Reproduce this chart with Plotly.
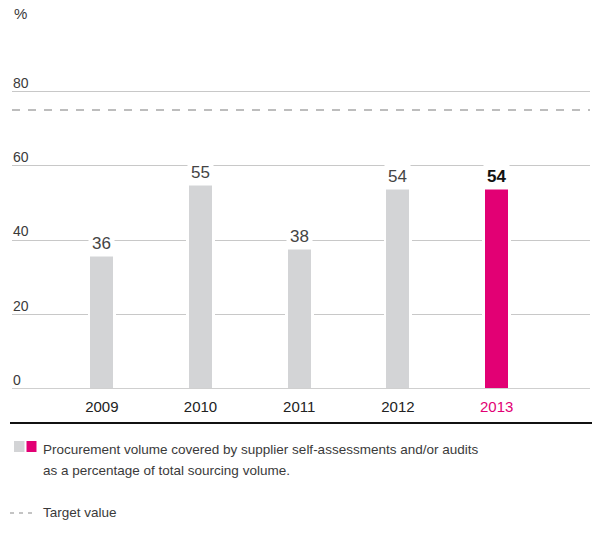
import plotly.graph_objects as go

# Share of procurement volume covered by supplier self-assessments / audits
years = ["2009", "2010", "2011", "2012", "2013"]
coverage = [36, 55, 38, 54, 54]
target_value = 75
y_ticks = [0, 20, 40, 60, 80]

legend_lines = [
    "Procurement volume covered by supplier self-assessments and/or audits",
    "as a percentage of total sourcing volume.",
]

GREY = "#d3d4d6"
MAGENTA = "#e20074"
TEXT = "#3a3a3a"
FONT = "Liberation Sans, Arial, sans-serif"

# page geometry (pixels) used to place decorations outside the plot area
W, H = 595, 547
ML, MR, MT, MB = 12, 5, 20, 158
PLOT_W = W - ML - MR
PLOT_H = H - MT - MB


def px_x(x):
    return (x - ML) / PLOT_W


def px_y(y):
    return (H - MB - y) / PLOT_H


bar_colors = [GREY] * (len(years) - 1) + [MAGENTA]
x_idx = list(range(len(years)))

fig = go.Figure()

# wider white bars knock the gridlines out around each column
fig.add_trace(go.Bar(
    x=x_idx, y=coverage, width=0.29,
    marker=dict(color="white", line=dict(width=0)),
    hoverinfo="skip", showlegend=False,
))
fig.add_trace(go.Bar(
    x=x_idx, y=coverage, width=0.233,
    marker=dict(color=bar_colors, line=dict(width=0)),
    showlegend=False,
))

annotations = []

# value labels above the bars
for i, v in enumerate(coverage):
    last = i == len(coverage) - 1
    annotations.append(dict(
        x=i, y=v, xref="x", yref="y", yanchor="bottom", yshift=-2,
        text=f"<b>{v}</b>" if last else str(v), showarrow=False,
        bgcolor="white", borderpad=3,
        font=dict(family=FONT, size=17, color="#111" if last else "#444"),
    ))

# y tick labels sit on top of their gridlines at the left edge
for t in y_ticks:
    annotations.append(dict(
        x=0, y=t, xref="paper", yref="y", xanchor="left", yanchor="bottom",
        text=str(t), showarrow=False, borderpad=0,
        font=dict(family=FONT, size=14, color=TEXT),
    ))

annotations.append(dict(
    x=0, y=px_y(13), xref="paper", yref="paper", xanchor="left", yanchor="middle",
    text="%", showarrow=False, font=dict(family=FONT, size=15, color=TEXT),
))

# legend block under the chart
for k, line in enumerate(legend_lines):
    annotations.append(dict(
        x=px_x(41), y=px_y(449 + 21 * k), xref="paper", yref="paper",
        xanchor="left", yanchor="middle", showarrow=False, text=line,
        font=dict(family=FONT, size=13.5, color=TEXT),
    ))
annotations.append(dict(
    x=px_x(41), y=px_y(512), xref="paper", yref="paper", xanchor="left", yanchor="middle",
    text="Target value", showarrow=False, font=dict(family=FONT, size=13.5, color=TEXT),
))

shapes = [
    # target line
    dict(type="line", xref="paper", yref="y", x0=0, x1=1, y0=target_value, y1=target_value,
         line=dict(color="#a8a8a8", width=1.5, dash="8px,8px"), layer="above"),
    # baseline
    dict(type="line", xref="paper", yref="y", x0=0, x1=1, y0=0, y1=0,
         line=dict(color="#cfcfcf", width=2), layer="above"),
    # black separator
    dict(type="line", xref="paper", yref="paper", x0=px_x(10), x1=px_x(592),
         y0=px_y(423), y1=px_y(423), line=dict(color="#111", width=2)),
    # legend swatches
    dict(type="rect", xref="paper", yref="paper", x0=px_x(14), x1=px_x(24.5),
         y0=px_y(452), y1=px_y(441), fillcolor=GREY, line=dict(width=0)),
    dict(type="rect", xref="paper", yref="paper", x0=px_x(26.5), x1=px_x(36.5),
         y0=px_y(452), y1=px_y(441), fillcolor=MAGENTA, line=dict(width=0)),
    dict(type="line", xref="paper", yref="paper", x0=px_x(10), x1=px_x(35),
         y0=px_y(513), y1=px_y(513), line=dict(color="#8a8a8a", width=1.2, dash="4px,5px")),
]

tick_text = [
    f'<span style="color:{MAGENTA}">{y}</span>' if i == len(years) - 1 else y
    for i, y in enumerate(years)
]

y_top = PLOT_H / ((H - MB - 91.5) / 80)

fig.update_layout(
    width=W, height=H,
    margin=dict(l=ML, r=MR, t=MT, b=MB),
    paper_bgcolor="white", plot_bgcolor="white",
    barmode="overlay", bargap=0,
    font=dict(family=FONT, color=TEXT),
    xaxis=dict(
        range=[-0.91, 4.946], tickvals=x_idx, ticktext=tick_text,
        showgrid=False, zeroline=False, showline=False, ticks="",
        tickfont=dict(family=FONT, size=15, color="#222"),
        ticklabelstandoff=7, fixedrange=True,
    ),
    yaxis=dict(
        range=[0, y_top], tickvals=y_ticks[1:], showticklabels=False,
        showgrid=True, gridcolor="#c8c8c8", gridwidth=1,
        zeroline=False, showline=False, ticks="", fixedrange=True,
    ),
    annotations=annotations,
    shapes=shapes,
)

fig.write_html("out.html")
